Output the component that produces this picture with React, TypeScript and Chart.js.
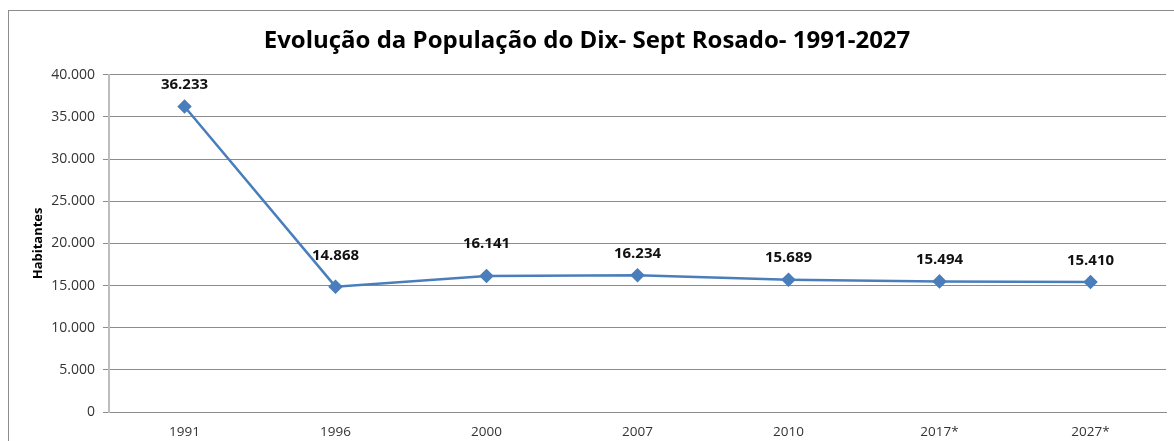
import React, { useEffect, useRef } from "react";
import { Chart, registerables } from "chart.js";

Chart.register(...registerables);

const categories = ["1991", "1996", "2000", "2007", "2010", "2017*", "2027*"];
const population = [36233, 14868, 16141, 16234, 15689, 15494, 15410];
const yTicks = [0, 5000, 10000, 15000, 20000, 25000, 30000, 35000, 40000];
const labelOffsets = [22, 31, 32, 21, 22, 22, 21];

const FONT = "'Open Sans', 'DejaVu Sans', sans-serif";
const fmt = (v: number) =>
  v === 0 ? "0" : Math.floor(v / 1000) + "." + String(v % 1000).padStart(3, "0");

const borderPlugin = {
  id: "frame",
  beforeDraw(chart: any) {
    const ctx = chart.ctx;
    ctx.save();
    ctx.fillStyle = "#ffffff";
    ctx.fillRect(0, 0, chart.width, chart.height);
    ctx.strokeStyle = "#8c8c8c";
    ctx.lineWidth = 1;
    ctx.strokeRect(8.5, 10.5, chart.width + 20, chart.height + 20);
    ctx.restore();
  },
};

const labelPlugin = {
  id: "valueLabels",
  afterDatasetsDraw(chart: any) {
    const ctx = chart.ctx;
    const meta = chart.getDatasetMeta(0);
    ctx.save();
    ctx.font = `bold 15px ${FONT}`;
    ctx.fillStyle = "#111111";
    ctx.textAlign = "center";
    ctx.textBaseline = "middle";
    meta.data.forEach((pt: any, i: number) => {
      ctx.fillText(fmt(population[i]), pt.x, pt.y - labelOffsets[i]);
    });
    ctx.restore();
  },
};

export default function App() {
  const ref = useRef<HTMLCanvasElement>(null);
  useEffect(() => {
    if (!ref.current) return;
    const chart = new Chart(ref.current, {
      type: "line",
      data: {
        labels: categories,
        datasets: [
          {
            data: population,
            borderColor: "#4a7ebb",
            backgroundColor: "#4a7ebb",
            borderWidth: 2.5,
            pointStyle: "rectRot",
            pointRadius: 5.5,
            pointHoverRadius: 5.5,
            tension: 0,
          },
        ],
      },
      options: {
        animation: false,
        responsive: false,
        events: [],
        layout: { padding: { left: 0, right: 0, top: 0, bottom: 2 } },
        plugins: {
          legend: { display: false },
          tooltip: { enabled: false },
          title: {
            display: true,
            text: "Evolução da População do Dix- Sept Rosado- 1991-2027",
            color: "#000000",
            font: { family: FONT, size: 24, weight: "bold" },
            padding: { top: 27, bottom: 19 },
          },
        },
        scales: {
          x: {
            offset: true,
            afterFit(scale: any) {
              scale.height = 27;
            },
            grid: { display: false, drawTicks: false },
            border: { display: true, color: "#8c8c8c", width: 1 },
            ticks: {
              color: "#333333",
              font: { family: FONT, size: 13.5 },
              padding: 12,
              maxRotation: 0,
            },
          },
          y: {
            min: 0,
            max: 40000,
            afterBuildTicks(scale: any) {
              scale.ticks = yTicks.map((v) => ({ value: v }));
            },
            afterFit(scale: any) {
              scale.width = 109;
            },
            grid: { color: "#8c8c8c", tickLength: 6, lineWidth: 1 },
            border: { display: true, color: "#bdbdbd", width: 2 },
            title: {
              display: true,
              text: "Habitantes",
              color: "#000000",
              font: { family: FONT, size: 13, weight: "bold" },
              padding: { top: 30, bottom: 0 },
            },
            ticks: {
              color: "#333333",
              font: { family: FONT, size: 14 },
              padding: 8,
              callback: (v: any) => fmt(Number(v)),
            },
          },
        },
      },
      plugins: [borderPlugin, labelPlugin],
    });
    return () => chart.destroy();
  }, []);
  return (
    <canvas
      ref={ref}
      width={1174}
      height={441}
      style={{ position: "absolute", left: 0, top: 0, display: "block" }}
    />
  );
}
